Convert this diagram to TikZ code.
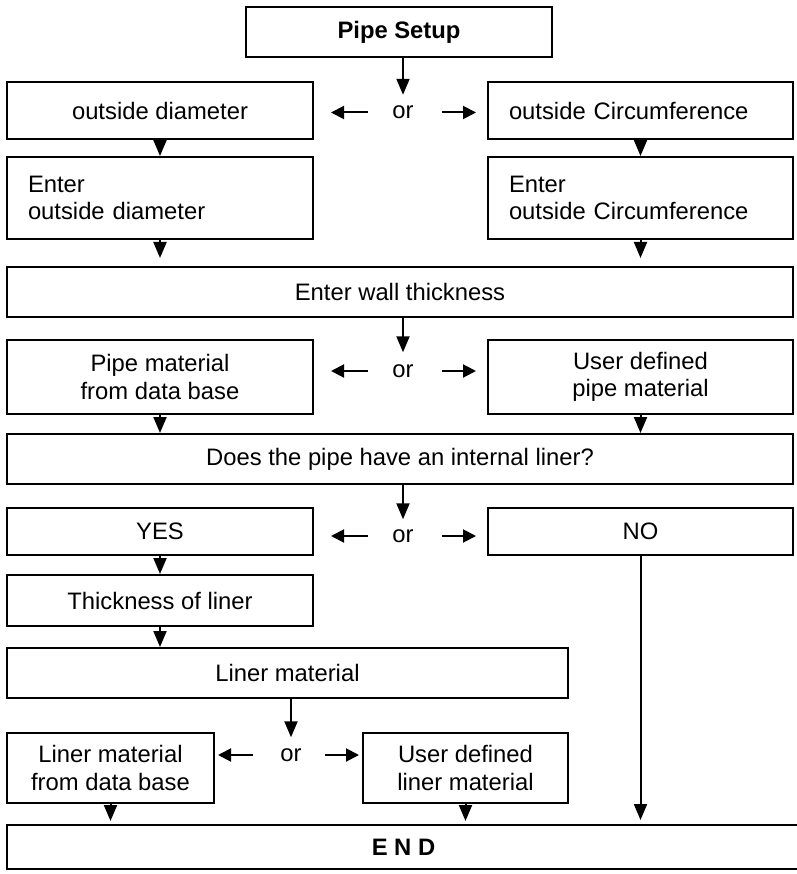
\documentclass[tikz,border=0pt]{standalone}
\usepackage{fontspec}
\setmainfont{Liberation Sans}
\usetikzlibrary{arrows.meta}
\begin{document}
\begin{tikzpicture}[x=1pt,y=-1pt,
  font=\fontsize{23.8}{27.5}\selectfont,
  box/.style={draw, line width=2pt, inner sep=0pt, align=center},
  lbox/.style={draw, line width=2pt, inner ysep=0pt, inner xsep=21pt, align=left},
  ortext/.style={inner sep=0pt},
  arr/.style={line width=2pt, -{Triangle[length=16pt,width=13pt]}},
  harr/.style={line width=2pt, -{Triangle[length=13pt,width=13pt]}}]
\useasboundingbox (0,0) rectangle (796,874);
% boxes
\node[box, minimum width=306pt, minimum height=50pt] (ps) at (399,32) {\bfseries Pipe Setup};
\node[box, minimum width=306pt, minimum height=57pt] (od) at (160,110.5) {outside diameter};
\node[lbox, text width=263pt, minimum height=57pt] (oc) at (640.5,110.5) {outside Circumference};
\node[lbox, text width=264pt, minimum height=82pt] (eod) at (160,198) {Enter\\outside diameter};
\node[lbox, text width=263pt, minimum height=82pt] (eoc) at (640.5,198) {Enter\\outside Circumference};
\node[box, minimum width=786pt, minimum height=50pt] (wt) at (400,292) {Enter wall thickness};
\node[box, minimum width=306pt, minimum height=74pt] (pm) at (160,377) {Pipe material\\from data base};
\node[box, minimum width=305pt, minimum height=74pt] (up) at (640.5,377) {User defined\\pipe material};
\node[box, minimum width=786pt, minimum height=50pt] (lq) at (400,459) {Does the pipe have an internal liner?};
\node[box, minimum width=306pt, minimum height=47pt] (yes) at (160,531.5) {YES};
\node[box, minimum width=305pt, minimum height=47pt] (no) at (640.5,531.5) {NO};
\node[box, minimum width=306pt, minimum height=51pt] (tl) at (160,600.5) {Thickness of liner};
\node[box, minimum width=561pt, minimum height=50pt] (lm) at (287.5,673) {Liner material};
\node[box, minimum width=207pt, minimum height=70pt] (ld) at (110.5,768) {Liner material\\from data base};
\node[box, minimum width=205pt, minimum height=70pt] (ul) at (465.5,768) {User defined\\liner material};
\node[box, minimum width=793pt, minimum height=44pt] (end) at (403.5,847) {\bfseries E N D};
% or labels
\node[ortext] (or1) at (403,112.5) {or};
\node[ortext] (or2) at (403,371) {or};
\node[ortext] (or3) at (403,536) {or};
\node[ortext] (or4) at (291,755) {or};
% row 1
\draw[arr, shorten >=11pt] (ps.south -| or1.north) -- (or1.north);
\draw[harr, shorten <=24pt, shorten >=17pt] (or1.west) -- (od.east |- or1.west);
\draw[harr, shorten <=28pt, shorten >=11pt] (or1.east) -- (oc.west |- or1.east);
\draw[arr] (od.south) -- (eod.north);
\draw[arr] (oc.south) -- (eoc.north);
\draw[arr, shorten >=8pt] (eod.south) -- (eod.south |- wt.north);
\draw[arr, shorten >=8pt] (eoc.south) -- (eoc.south |- wt.north);
% row 2
\draw[arr, shorten >=12pt] (wt.south -| or2.north) -- (or2.north);
\draw[harr, shorten <=24pt, shorten >=17pt] (or2.west) -- (pm.east |- or2.west);
\draw[harr, shorten <=28pt, shorten >=11pt] (or2.east) -- (up.west |- or2.east);
\draw[arr] (pm.south) -- (pm.south |- lq.north);
\draw[arr] (up.south) -- (up.south |- lq.north);
% row 3
\draw[arr, shorten >=10pt] (lq.south -| or3.north) -- (or3.north);
\draw[harr, shorten <=24pt, shorten >=17pt] (or3.west) -- (yes.east |- or3.west);
\draw[harr, shorten <=28pt, shorten >=11pt] (or3.east) -- (no.west |- or3.east);
\draw[arr] (yes.south) -- (tl.north);
\draw[arr] (tl.south) -- (tl.south |- lm.north);
% row 4
\draw[arr, shorten >=11pt] (lm.south -| or4.north) -- (or4.north);
\draw[harr, shorten <=27pt, shorten >=3pt] (or4.west) -- (ld.east |- or4.west);
\draw[harr, shorten <=23pt, shorten >=3pt] (or4.east) -- (ul.west |- or4.east);
\draw[arr, shorten >=3pt] (ld.south) -- (ld.south |- end.north);
\draw[arr, shorten >=3pt] (ul.south) -- (ul.south |- end.north);
\draw[arr, shorten >=4pt] (no.south) -- (no.south |- end.north);
\end{tikzpicture}
\end{document}
